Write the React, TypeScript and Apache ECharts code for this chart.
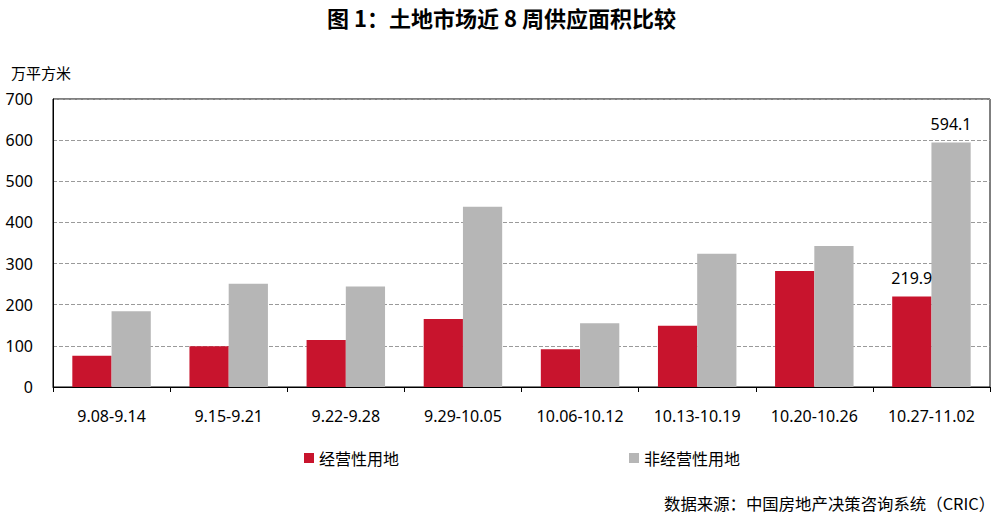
import { useEffect, useRef } from 'react';
import * as echarts from 'echarts';

// 周次
const weeks = [
  '9.08-9.14',
  '9.15-9.21',
  '9.22-9.28',
  '9.29-10.05',
  '10.06-10.12',
  '10.13-10.19',
  '10.20-10.26',
  '10.27-11.02',
];

// 经营性用地（万平方米）
const commercialLand = [76, 99, 114, 165, 92, 149, 282, 219.9];
// 非经营性用地（万平方米）
const nonCommercialLand = [184, 251, 244, 438, 155, 324, 343, 594.1];

const yTicks = { min: 0, max: 700, interval: 100 };

const FONT = '"Noto Sans", "Noto Sans CJK SC", sans-serif';
const CJK = '"Noto Sans CJK SC", sans-serif';

const App: React.FC = () => {
  const chartRef = useRef<HTMLDivElement>(null);

  useEffect(() => {
    if (!chartRef.current) return;
    const chart = echarts.init(chartRef.current, undefined, { renderer: 'svg' });

    // 只在最后一周显示数值
    const lastOnly = (arr: number[]) =>
      arr.map((v, i) =>
        i === arr.length - 1
          ? { value: v, label: { show: true } }
          : v
      );

    const option = {
      animation: false,
      backgroundColor: '#fff',
      textStyle: { fontFamily: FONT },
      title: [
        {
          text: '图 1：土地市场近 8 周供应面积比较',
          left: 'center',
          top: 1,
          textStyle: { fontSize: 22, fontWeight: 'bold', color: '#000', fontFamily: CJK },
        },
        {
          text: '万平方米',
          left: 6,
          top: 60,
          textStyle: { fontSize: 15, fontWeight: 'normal', color: '#000', fontFamily: CJK },
        },
        {
          text: '数据来源：中国房地产决策咨询系统（CRIC）',
          left: 664,
          top: 495,
          padding: 0,
          textStyle: { fontSize: 16.4, fontWeight: 'normal', color: '#000', fontFamily: CJK },
        },
      ],
      legend: [
        {
          data: ['经营性用地'],
          left: 299,
          top: 445,
          itemWidth: 10,
          itemHeight: 10,
          itemGap: 5,
          icon: 'rect',
          textStyle: { fontSize: 16, color: '#000', fontFamily: CJK },
        },
        {
          data: ['非经营性用地'],
          left: 624,
          top: 445,
          itemWidth: 10,
          itemHeight: 10,
          itemGap: 5,
          icon: 'rect',
          textStyle: { fontSize: 16, color: '#000', fontFamily: CJK },
        },
      ],
      grid: {
        left: 53,
        right: 13,
        top: 99,
        bottom: 134,
        show: true,
        borderColor: '#000',
        borderWidth: 1,
        backgroundColor: 'transparent',
      },
      xAxis: {
        type: 'category',
        data: weeks,
        axisLine: { lineStyle: { color: '#000', width: 1 } },
        axisTick: { show: true, length: 5, lineStyle: { color: '#000' } },
        axisLabel: { color: '#000', fontSize: 16, margin: 21, fontFamily: FONT },
      },
      yAxis: {
        type: 'value',
        ...yTicks,
        axisLine: { show: true, lineStyle: { color: '#000' } },
        axisTick: { show: false },
        axisLabel: { color: '#000', fontSize: 16, margin: 20, fontFamily: FONT },
        splitLine: { lineStyle: { color: '#9a9a9a', type: [4, 2], width: 1 } },
      },
      series: [
        {
          name: '经营性用地',
          type: 'bar',
          data: lastOnly(commercialLand),
          barGap: '0%',
          barCategoryGap: '33%',
          itemStyle: { color: '#c8142d' },
          label: {
            show: false,
            position: 'top',
            distance: 11,
            color: '#000',
            fontSize: 16,
            fontFamily: FONT,
          },
        },
        {
          name: '非经营性用地',
          type: 'bar',
          data: lastOnly(nonCommercialLand),
          itemStyle: { color: '#b6b6b6' },
          label: {
            show: false,
            position: 'top',
            distance: 11,
            color: '#000',
            fontSize: 16,
            fontFamily: FONT,
          },
        },
      ],
    };

    chart.setOption(option);

    return () => {
      chart.dispose();
    };
  }, []);

  return (
    <div
      ref={chartRef}
      style={{ position: 'absolute', left: 0, top: 0, width: 1003, height: 521 }}
    />
  );
};

export default App;
